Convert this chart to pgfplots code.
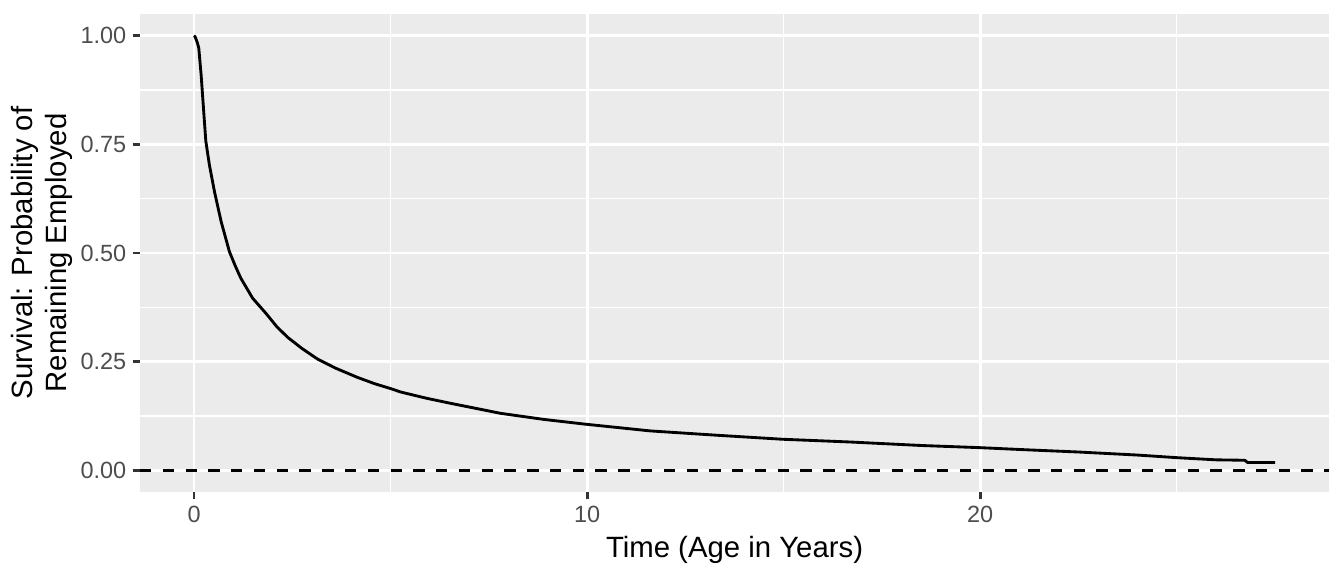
\documentclass[border=0pt]{standalone}
\usepackage{pgfplots}
\pgfplotsset{compat=1.18}
\usepackage{fontspec}
\setmainfont{Liberation Sans}
\definecolor{panelbg}{HTML}{EBEBEB}
\definecolor{ticktext}{HTML}{4D4D4D}
\definecolor{tickcol}{HTML}{333333}
\begin{document}
\begin{tikzpicture}
\path[use as bounding box] (0,0) rectangle (504pt,216pt);
\begin{axis}[
  at={(52.5pt,31.5pt)}, anchor=south west,
  scale only axis, width=445.9pt, height=179.25pt,
  xmin=-1.375, xmax=28.875, ymin=-0.05, ymax=1.05,
  axis background/.style={fill=panelbg},
  axis line style={draw=none},
  xtick={0,10,20}, ytick={0,0.25,0.5,0.75,1},
  minor xtick={5,15,25}, minor ytick={0.125,0.375,0.625,0.875},
  yticklabels={0.00,0.25,0.50,0.75,1.00},
  xticklabels={0,10,20},
  grid=both,
  major grid style={white, line width=1.07pt},
  minor grid style={white, line width=0.53pt},
  tick align=outside, tick pos=left,
  major tick length=2.75pt, minor tick length=0pt,
  tick style={tickcol, line width=1.07pt},
  /pgf/number format/assume math mode=true,
  ticklabel style={font=\fontsize{8.8pt}{10pt}\selectfont, text=ticktext},
  xticklabel style={anchor=base, inner sep=0pt, yshift=-8.85pt},
  yticklabel style={anchor=east, inner sep=0pt, xshift=-2.2pt},
  xlabel={Time (Age in Years)},
  ylabel={Survival: Probability of\\Remaining Employed},
  every axis x label/.style={at={(rel axis cs:0.5,0)}, anchor=base, yshift=-24.4pt, font=\fontsize{11pt}{13pt}\selectfont, inner sep=0pt},
  every axis y label/.style={at={(rel axis cs:0,0.5)}, xshift=-25.2pt, rotate=90, anchor=south, align=center, font=\fontsize{11pt}{12.75pt}\selectfont, inner sep=0pt},
  clip=false,
]
\addplot[black, line width=1.07pt, dash pattern=on 4.27pt off 4.27pt] coordinates {(-1.375,0) (28.875,0)};
\addplot[black, line width=1.07pt, line join=round] coordinates {
(0,1.0) (0.025,0.998) (0.08,0.985) (0.12,0.972) (0.18,0.91) (0.24,0.833) (0.30,0.757) (0.39,0.703)
(0.52,0.641) (0.69,0.572) (0.90,0.503) (1.05,0.470) (1.19,0.442) (1.49,0.396) (1.83,0.361)
(2.1,0.331) (2.38,0.306) (2.75,0.280) (3.14,0.256) (3.6,0.235) (4.15,0.214) (4.6,0.199) (5.0,0.188) (5.26,0.180) (5.9,0.166) (6.53,0.154)
(7.8,0.131) (8.9,0.117) (9.96,0.106) (11.6,0.0906) (13.3,0.0806) (14.96,0.0714) (16.7,0.065)
(18.5,0.057) (20,0.052) (21.2,0.047) (22.5,0.042) (24,0.035) (25,0.029) (26,0.024) (26.73,0.023)
(26.8,0.018) (27.5,0.018)
};
\end{axis}
\end{tikzpicture}
\end{document}
